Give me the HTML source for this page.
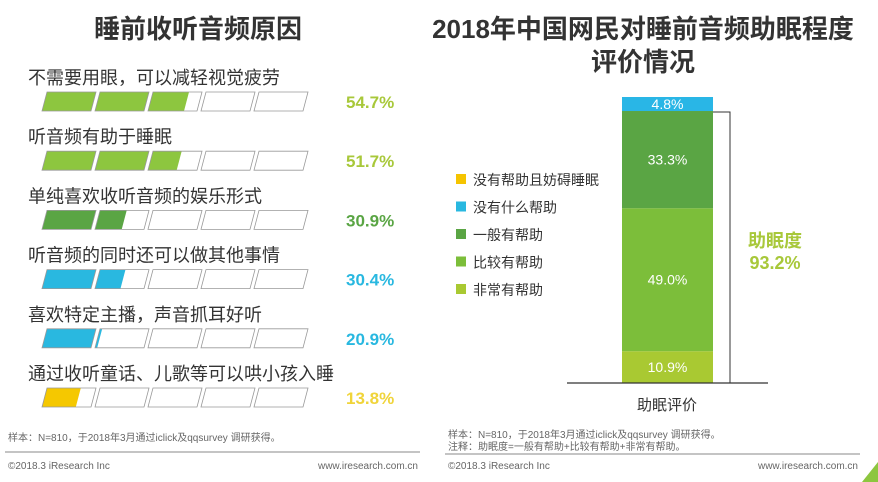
<!DOCTYPE html>
<html><head><meta charset="utf-8"><style>
body{margin:0;background:#fff;width:878px;height:482px;overflow:hidden;position:relative;font-family:"Liberation Sans","Noto Sans CJK SC",sans-serif}
svg{position:absolute;left:0;top:0}
</style></head><body>
<svg width="878" height="482" id="chart">
<text x="198" y="38" font-size="26" font-weight="bold" fill="#333" text-anchor="middle">睡前收听音频原因</text>
<text x="643" y="38" font-size="26" font-weight="bold" fill="#333" text-anchor="middle">2018年中国网民对睡前音频助眠程度</text>
<text x="643" y="71" font-size="26" font-weight="bold" fill="#333" text-anchor="middle">评价情况</text>
<g id="left"></g>
<g id="right"></g>
<line x1="567" y1="383" x2="768" y2="383" stroke="#333" stroke-width="1.2"/>
<polyline points="713,112 730,112 730,383" fill="none" stroke="#333" stroke-width="1"/>
<text x="775" y="247" font-size="18" font-weight="bold" fill="#a8c83a" text-anchor="middle">助眠度</text>
<text x="775" y="269" font-size="18" font-weight="bold" fill="#a8c83a" text-anchor="middle">93.2%</text>
<text x="667" y="410" font-size="15" fill="#333" text-anchor="middle">助眠评价</text>
<text x="8" y="441" font-size="10" fill="#666">样本：N=810，于2018年3月通过iclick及qqsurvey 调研获得。</text>
<line x1="5" y1="452" x2="420" y2="452" stroke="#888"/>
<text x="8" y="469" font-size="10" fill="#666">©2018.3 iResearch Inc</text>
<text x="418" y="469" font-size="10" fill="#666" text-anchor="end">www.iresearch.com.cn</text>
<text x="448" y="438" font-size="10" fill="#666">样本：N=810，于2018年3月通过iclick及qqsurvey 调研获得。</text>
<text x="448" y="450" font-size="10" fill="#666">注释：助眠度=一般有帮助+比较有帮助+非常有帮助。</text>
<line x1="445" y1="454" x2="860" y2="454" stroke="#888"/>
<text x="448" y="469" font-size="10" fill="#666">©2018.3 iResearch Inc</text>
<text x="858" y="469" font-size="10" fill="#666" text-anchor="end">www.iresearch.com.cn</text>
<polygon points="878,462 878,482 862,482" fill="#8dc63f"/>
</svg>
<script>
const reasons=["不需要用眼，可以减轻视觉疲劳","听音频有助于睡眠","单纯喜欢收听音频的娱乐形式","听音频的同时还可以做其他事情","喜欢特定主播，声音抓耳好听","通过收听童话、儿歌等可以哄小孩入睡"];
const reasonValues=[54.7,51.7,30.9,30.4,20.9,13.8];
const reasonColors=["#8dc63f","#8dc63f","#5aa544","#29b8e0","#29b8e0","#f5c800"];
const pctColors=["#a8c83a","#a8c83a","#5aa544","#29b8e0","#29b8e0","#f0d43a"];
const ratingLabels=["没有帮助且妨碍睡眠","没有什么帮助","一般有帮助","比较有帮助","非常有帮助"];
const legendColors=["#f5c400","#29b8e0","#5aa544","#7cbe3a","#a9c932"];
const barSegments=["非常有帮助","比较有帮助","一般有帮助","没有什么帮助"];
const barValues=[10.9,49.0,33.3,4.8];
const barColors=["#a9c932","#7cbe3a","#5aa544","#29b6e6"];
const NS="http://www.w3.org/2000/svg";
function mk(t,a,p){const e=document.createElementNS(NS,t);for(const k in a)e.setAttribute(k,a[k]);p.appendChild(e);return e;}
const L=document.getElementById('left');
const segW=49,gap=4,skew=5,x0=42,barH=19;
function rowY(i){return 92+i*59.2;}
function segX(j){return x0+j*(segW+gap);}
reasons.forEach((r,i)=>{
 const y=rowY(i);
 const t=mk('text',{x:28,y:y-8,'font-size':18,fill:'#333'},L);t.textContent=r;
 
 
 const fill=reasonValues[i]/20;
 for(let j=0;j<5;j++){
  const xs=segX(j);
  const f=Math.max(0,Math.min(1,fill-j));
  if(f>0){
   const w=segW*f;
   const p=mk('polygon',{points:`${xs+skew},${y} ${xs+w+skew},${y} ${xs+w},${y+barH} ${xs},${y+barH}`,fill:reasonColors[i]},L);
   
   
  }
  const o=mk('polygon',{points:`${xs+skew},${y} ${xs+segW+skew},${y} ${xs+segW},${y+barH} ${xs},${y+barH}`,fill:'none',stroke:'#999','stroke-width':0.8},L);
  
  
 }
 const v=mk('text',{x:346,y:y+16,'font-size':17,'font-weight':'bold',fill:pctColors[i]},L);v.textContent=reasonValues[i].toFixed(1)+'%';
 
 
});
const R=document.getElementById('right');
const yBottom=383,yTop=97,bx=622,bw=91;
const total=barValues.reduce((a,b)=>a+b,0);
function ys(v){return (yBottom-yTop)*v/total;}
let cur=yBottom;
barValues.forEach((v,i)=>{
 const h=ys(v);
 const r=mk('rect',{x:bx,y:cur-h,width:bw,height:h,fill:barColors[i]},R);
 
 
 const t=mk('text',{x:bx+bw/2,y:cur-h/2+5,'font-size':14,fill:'#fff','text-anchor':'middle'},R);t.textContent=v.toFixed(1)+'%';
 
 
 cur-=h;
});
ratingLabels.forEach((l,i)=>{
 const y=180+i*27.5;
 const s=mk('rect',{x:456,y:y-6,width:10,height:10,fill:legendColors[i]},R);
 
 
 const t=mk('text',{x:473,y:y+5,'font-size':14,fill:'#333'},R);t.textContent=l;
 
 
});
</script>
</body></html>
